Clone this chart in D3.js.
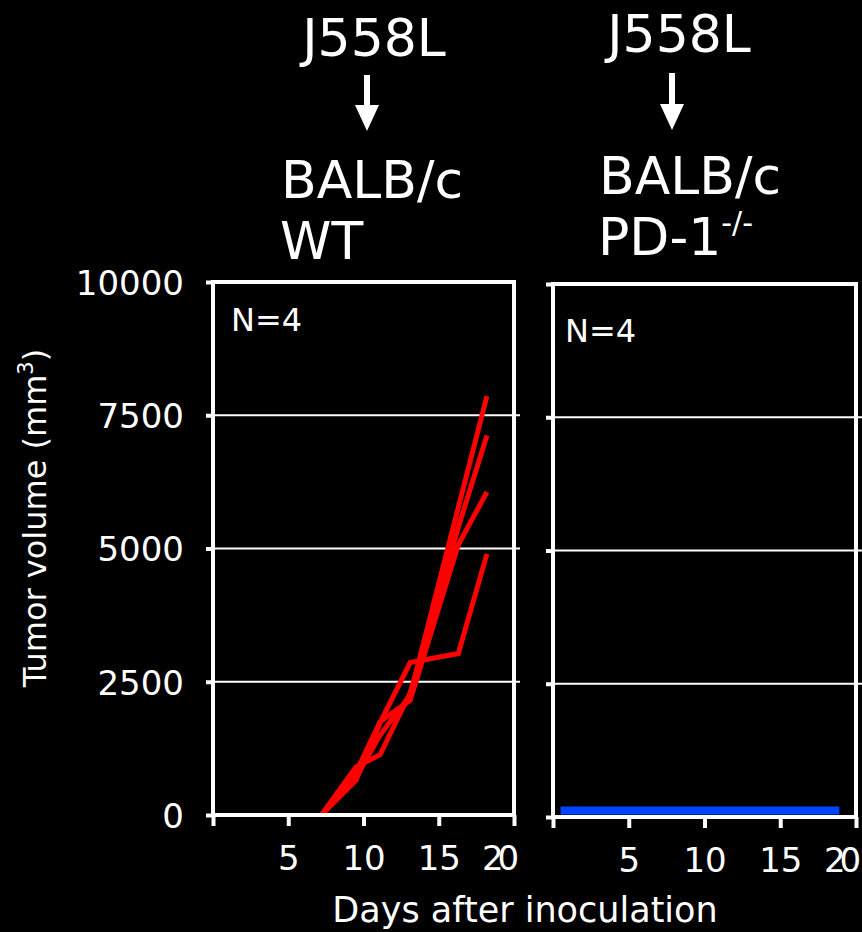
<!DOCTYPE html>
<html>
<head>
<meta charset="utf-8">
<script src="https://cdn.jsdelivr.net/npm/d3@7"></script>
<style>
  html, body { margin: 0; padding: 0; background: #000; }
  svg { display: block; }
  text { font-family: "Comic Sans MS", "DejaVu Sans", sans-serif; fill: #fff; }
</style>
</head>
<body>
<div id="chart"></div>
<script>
// data
const days = [7.2, 9.5, 11.1, 13.1, 16.3, 18.2];
const wtMouse1 = [0, 700, 1500, 2250, 5770, 7860];
const wtMouse2 = [0, 900, 1130, 2290, 5400, 7120];
const wtMouse3 = [0, 800, 1750, 2150, 5070, 6060];
const wtMouse4 = [0, 650, 1730, 2860, 3030, 4900];
const koDays = [0.5, 7.2, 9.5, 11.1, 13.1, 16.3, 18.9];
const koVolume = [120, 120, 120, 120, 120, 120, 120];

const yTicks = [0, 2500, 5000, 7500, 10000];
const xTicks = [0, 5, 10, 15, 20];
const xTickLabels = ["", "5", "10", "15", "20"];

const width = 862, height = 932;

const svg = d3.select("#chart").append("svg")
  .attr("width", width)
  .attr("height", height)
  .style("background", "#000");

// one panel = frame + grid + axes + lines
const drawPanel = (box, series, color, lineWidth, showYLabels) => {
  const x = d3.scaleLinear().domain([0, 20]).range([box.x0, box.x1]);
  const y = d3.scaleLinear().domain([0, 10000]).range([box.y1, box.y0]);
  const g = svg.append("g");

  // 横向网格线
  g.append("g")
    .selectAll("line")
    .data(yTicks.filter(d => d > 0 && d < 10000))
    .enter()
    .append("line")
    .attr("x1", box.x0)
    .attr("x2", box.x1 + box.gridOver)
    .attr("y1", d => y(d))
    .attr("y2", d => y(d))
    .attr("stroke", "#fff")
    .attr("stroke-width", 2);

  // 数据线
  const line = d3.line().x(d => x(d[0])).y(d => y(d[1]));
  g.append("g")
    .selectAll("path")
    .data(series)
    .enter()
    .append("path")
    .attr("d", line)
    .attr("fill", "none")
    .attr("stroke", color)
    .attr("stroke-width", lineWidth)
    .attr("stroke-linejoin", "miter")
    .attr("stroke-linecap", "butt");

  // frame (top + right)
  g.append("path")
    .attr("d", `M${box.x0},${box.y0}H${box.x1}V${box.y1}`)
    .attr("fill", "none")
    .attr("stroke", "#fff")
    .attr("stroke-width", 4);

  // y axis
  const yAxis = g.append("g")
    .attr("transform", `translate(${box.x0},0)`)
    .call(d3.axisLeft(y).tickValues(yTicks).tickSize(7).tickPadding(22)
      .tickFormat(d => showYLabels ? d : ""));
  yAxis.select(".domain").attr("stroke", "#fff").attr("stroke-width", 4)
    .attr("d", `M0,${box.y0 - 2}V${box.y1 + 2}`);
  yAxis.selectAll(".tick line").attr("stroke", "#fff").attr("stroke-width", 4);
  yAxis.selectAll(".tick text")
    .attr("font-size", 34)
    .attr("dy", "0.36em")
    .style("fill", "#fff");

  // x axis
  const xAxis = g.append("g")
    .attr("transform", `translate(0,${box.y1})`)
    .call(d3.axisBottom(x).tickValues(xTicks).tickSize(11).tickPadding(20)
      .tickFormat((d, i) => xTickLabels[i]));
  xAxis.select(".domain").attr("stroke", "#fff").attr("stroke-width", 4)
    .attr("d", `M${box.x0 - 2},0H${box.x1 + 2}`);
  xAxis.selectAll(".tick line").attr("stroke", "#fff").attr("stroke-width", 4);
  xAxis.selectAll(".tick text")
    .attr("font-size", 34)
    .style("fill", "#fff")
    .filter(d => d === 20)
    .attr("dx", -17)
    .attr("letter-spacing", -6);

  return g;
};

const wtSeries = [wtMouse1, wtMouse2, wtMouse3, wtMouse4]
  .map(vals => vals.map((v, i) => [days[i], v]));
const koSeries = [koVolume.map((v, i) => [koDays[i], v])];

drawPanel({ x0: 213, x1: 514, y0: 282, y1: 815, gridOver: 6 }, wtSeries, "#ff0000", 5, true);
drawPanel({ x0: 553, x1: 856, y0: 284, y1: 817, gridOver: 6 }, koSeries, "#0044ff", 8, false);

// N=4
svg.append("text").attr("x", 231).attr("y", 331).attr("font-size", 32).text("N=4");
svg.append("text").attr("x", 565).attr("y", 342).attr("font-size", 32).text("N=4");

// 标题
const titleSize = 52;
svg.append("text").attr("x", 374).attr("y", 56).attr("text-anchor", "middle")
  .attr("font-size", titleSize).text("J558L");
svg.append("text").attr("x", 679).attr("y", 52).attr("text-anchor", "middle")
  .attr("font-size", titleSize).text("J558L");
svg.append("text").attr("x", 281).attr("y", 198).attr("font-size", titleSize).text("BALB/c");
svg.append("text").attr("x", 599).attr("y", 194).attr("font-size", titleSize).text("BALB/c");
svg.append("text").attr("x", 280).attr("y", 259).attr("font-size", titleSize).text("WT");
const pd1 = svg.append("text").attr("x", 598).attr("y", 255).attr("font-size", titleSize);
pd1.append("tspan").text("PD-1");
pd1.append("tspan").attr("font-size", 30).attr("dy", -22).text("-/-");

// 箭头
const arrows = [{ x: 367, y0: 75, y1: 131 }, { x: 672, y0: 73, y1: 130 }];
arrows.forEach(a => {
  svg.append("line")
    .attr("x1", a.x).attr("x2", a.x)
    .attr("y1", a.y0).attr("y2", a.y1 - 20)
    .attr("stroke", "#fff").attr("stroke-width", 6);
  svg.append("path")
    .attr("d", `M${a.x - 12},${a.y1 - 26}L${a.x + 12},${a.y1 - 26}L${a.x},${a.y1}Z`)
    .attr("fill", "#fff");
});

// axis titles
svg.append("text")
  .attr("transform", "translate(46,518) rotate(-90)")
  .attr("text-anchor", "middle")
  .attr("font-size", 32)
  .call(t => {
    t.append("tspan").text("Tumor volume (mm");
    t.append("tspan").attr("font-size", 21).attr("dy", -13).text("3");
    t.append("tspan").attr("dy", 13).text(")");
  });

svg.append("text")
  .attr("x", 525)
  .attr("y", 922)
  .attr("text-anchor", "middle")
  .attr("font-size", 35)
  .text("Days after inoculation");
</script>
</body>
</html>
